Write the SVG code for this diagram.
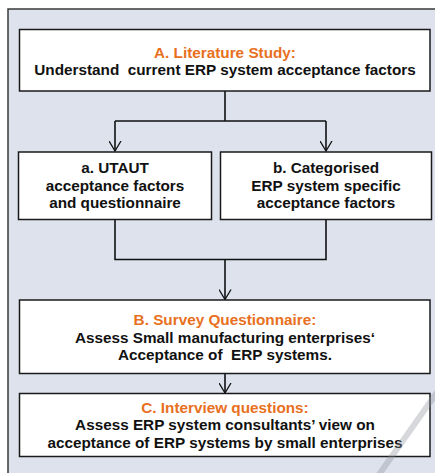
<svg xmlns="http://www.w3.org/2000/svg" width="435" height="473" viewBox="0 0 435 473">
<defs>
<style>
.box{fill:#ffffff;stroke:#1a1a1a;stroke-width:1.5}
.t{font-family:"Liberation Sans",Arial,sans-serif;font-weight:bold;font-size:15.3px;fill:#111111;text-anchor:middle}
.o{fill:#e8701e}
.c{fill:none;stroke:#111111;stroke-width:1.6}
</style>
<marker id="ah" markerWidth="12" markerHeight="13" refX="10.5" refY="6.5" orient="auto" markerUnits="userSpaceOnUse" viewBox="0 0 12 13">
<path d="M0.5,0.5 L10.5,6.5 L0.5,12.5" fill="none" stroke="#111111" stroke-width="1.3"/>
</marker>
</defs>
<rect x="0" y="0" width="435" height="473" fill="#ffffff"/>
<rect x="8" y="9" width="440" height="480" fill="#dde2ed" stroke="#3a3a3a" stroke-width="1.5"/>
<g id="connectors">
<path class="c" d="M225,91 V121 M115,121 H326"/>
<path class="c" d="M115,121 V151" marker-end="url(#ah)"/>
<path class="c" d="M326,121 V151" marker-end="url(#ah)"/>
<path class="c" d="M115,219 V259.5 H326 V219"/>
<path class="c" d="M225,259.5 V299.5" marker-end="url(#ah)"/>
<path class="c" d="M225,373.5 V393" marker-end="url(#ah)"/>
</g>
<g id="nodeA">
<rect class="box" x="19.5" y="29.5" width="410.5" height="61.5"/>
<text class="t o" x="225" y="58">A. Literature Study:</text>
<text class="t" x="225" y="75" xml:space="preserve">Understand  current ERP system acceptance factors</text>
</g>
<g id="nodeAa">
<rect class="box" x="18.5" y="152" width="193" height="67.5"/>
<text class="t" x="115" y="173">a. UTAUT</text>
<text class="t" x="115" y="190.5">acceptance factors</text>
<text class="t" x="115" y="208">and questionnaire</text>
</g>
<g id="nodeAb">
<rect class="box" x="220.5" y="152" width="211" height="67.5"/>
<text class="t" x="326" y="173">b. Categorised</text>
<text class="t" x="326" y="190.5">ERP system specific</text>
<text class="t" x="326" y="208">acceptance factors</text>
</g>
<g id="nodeB">
<rect class="box" x="19.5" y="300" width="410.5" height="73.5"/>
<text class="t o" x="225" y="325">B. Survey Questionnaire:</text>
<text class="t" x="225" y="343">Assess Small manufacturing enterprises‘</text>
<text class="t" x="225" y="360" xml:space="preserve">Acceptance of  ERP systems.</text>
</g>
<g id="nodeC">
<rect class="box" x="19.5" y="393.5" width="410.5" height="63"/>
<text class="t o" x="225" y="413">C. Interview questions:</text>
<text class="t" x="225" y="430">Assess ERP system consultants’ view on</text>
<text class="t" x="225" y="448">acceptance of ERP systems by small enterprises</text>
</g>
<line x1="440" y1="388" x2="378" y2="476" stroke="#8a8f99" stroke-opacity="0.35" stroke-width="6"/>
</svg>
